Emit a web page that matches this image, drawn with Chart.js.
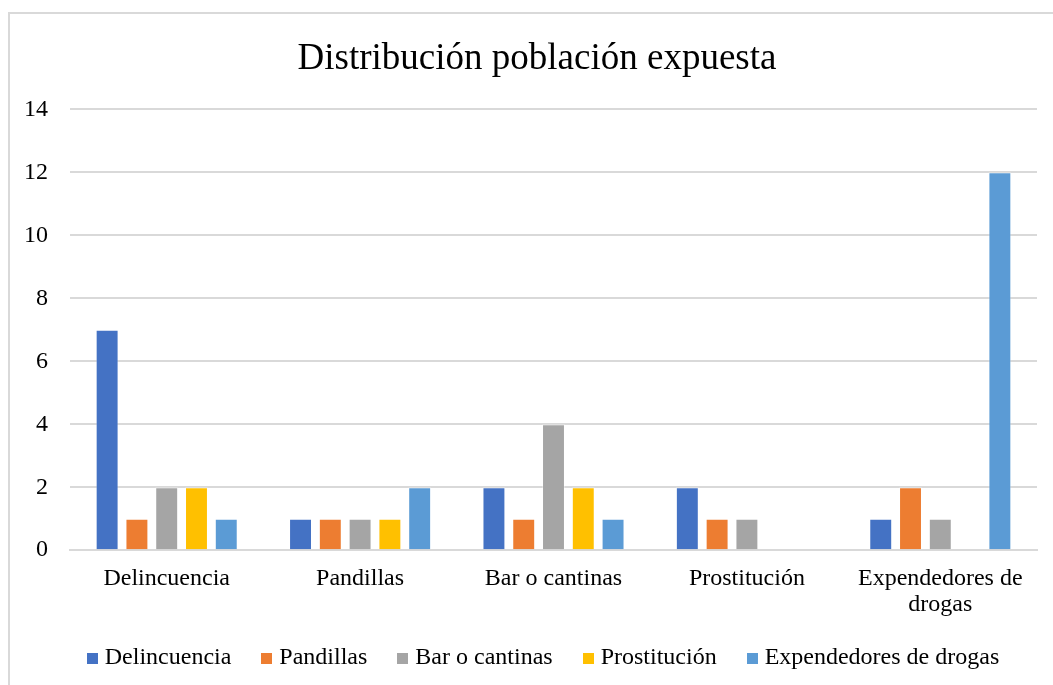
<!DOCTYPE html>
<html lang="es">
<head>
<meta charset="utf-8">
<script src="https://cdn.jsdelivr.net/npm/chart.js@4/dist/chart.umd.min.js"></script>
<style>
  html, body { margin: 0; padding: 0; background: #fff; overflow: hidden; }
  #frame {
    position: absolute; left: 8px; top: 12px;
    width: 1058px; height: 690px;
    border: 2px solid #d9d9d9; box-sizing: border-box;
  }
  #frame canvas { position: absolute; left: 0; top: 0; }
</style>
</head>
<body>
<div id="frame"><canvas id="chart" width="1054" height="665"></canvas></div>
<script>
// values
const categories = ['Delincuencia', 'Pandillas', 'Bar o cantinas', 'Prostitución', ['Expendedores de', 'drogas']];
const seriesNames = ['Delincuencia', 'Pandillas', 'Bar o cantinas', 'Prostitución', 'Expendedores de drogas'];
const delincuencia = [7, 1, 2, 2, 1];
const pandillas = [1, 1, 1, 1, 2];
const barCantinas = [2, 1, 4, 1, 1];
const prostitucion = [2, 1, 2, 0, 0];
const expendedores = [1, 2, 1, 0, 12];
const seriesColors = ['#4472C4', '#ED7D31', '#A5A5A5', '#FFC000', '#5B9BD5'];
const yTicks = [0, 2, 4, 6, 8, 10, 12, 14];

const serif = '"Liberation Serif", "Times New Roman", serif';
const allSeries = [delincuencia, pandillas, barCantinas, prostitucion, expendedores];

// small square swatches so the legend text can sit close to its marker (Excel style)
const swatches = seriesColors.map(c => {
    const cv = document.createElement('canvas');
    cv.width = 11;
    cv.height = 11;
    const g = cv.getContext('2d');
    g.fillStyle = c;
    g.fillRect(0, 0, 11, 11);
    return cv;
});

const tweakBlocks = {
    id: 'tweakBlocks',
    beforeLayout(chart) {
        // legend padding is wide for the item spacing; don't let it eat vertical room too
        const l = chart.legend;
        if (l && !l._trimmed) {
            const fit = l.fit;
            l.fit = function () { fit.call(this); this.height -= 15; };
            l._trimmed = true;
        }
    },
    afterLayout(chart) {
        // the right padding would pull title and legend off-centre; stretch their boxes
        const t = chart.titleBlock;
        if (t) { t.left = 0; t.right = chart.width; t.width = chart.width; }
        const l = chart.legend;
        if (l) {
            l.left = 17;
            l.right = chart.width;
            // lift the items but keep the bottom edge so the legend clip keeps descenders
            l.top -= 14;
            l.height += 14;
        }
    },
};

new Chart(document.getElementById('chart'), {
    type: 'bar',
    data: {
        labels: categories,
        datasets: allSeries.map((values, i) => ({
            label: seriesNames[i],
            data: values,
            backgroundColor: seriesColors[i],
            borderColor: 'rgba(255,255,255,0.35)',
            borderWidth: 1,
            categoryPercentage: 0.77,
            barPercentage: 0.77,
        })),
    },
    options: {
        responsive: false,
        animation: false,
        layout: { padding: { left: 0, right: 27, top: 0, bottom: 0 } },
        plugins: {
            title: {
                display: true,
                text: 'Distribución población expuesta',
                color: '#000',
                font: { family: serif, size: 37, weight: 'normal' },
                padding: { top: 23, bottom: 28 },
            },
            legend: {
                position: 'bottom',
                labels: {
                    color: '#000',
                    font: { family: serif, size: 24 },
                    usePointStyle: true,
                    boxWidth: 1,
                    boxHeight: 11,
                    padding: 35,
                    generateLabels(chart) {
                        const items = Chart.defaults.plugins.legend.labels.generateLabels(chart);
                        items.forEach((it, i) => { it.pointStyle = swatches[i]; });
                        return items;
                    },
                },
            },
            tooltip: { enabled: false },
        },
        scales: {
            x: {
                grid: { display: false },
                border: { color: '#d9d9d9', width: 2 },
                ticks: {
                    color: '#000',
                    font: { family: serif, size: 24, lineHeight: 1.1 },
                    padding: 7,
                    maxRotation: 0,
                    autoSkip: false,
                },
            },
            y: {
                min: 0,
                max: 14,
                afterBuildTicks: (axis) => { axis.ticks = yTicks.map(v => ({ value: v })); },
                afterFit: (axis) => { axis.width = 60; },
                grid: { color: '#d9d9d9', lineWidth: 2, drawTicks: false },
                border: { display: false },
                ticks: {
                    color: '#000',
                    font: { family: serif, size: 24 },
                    padding: 22,
                },
            },
        },
    },
    plugins: [tweakBlocks],
});
</script>
</body>
</html>
